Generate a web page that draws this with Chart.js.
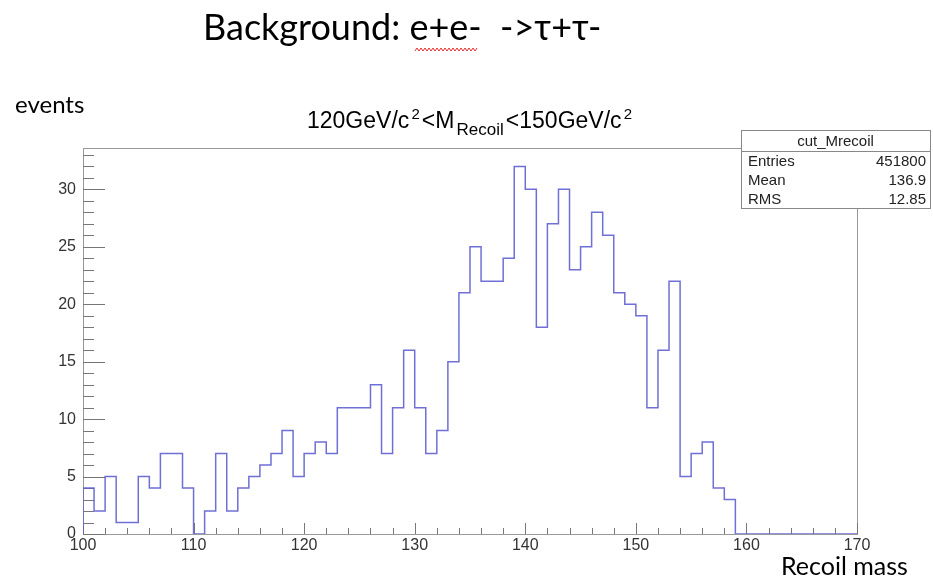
<!DOCTYPE html>
<html>
<head>
    <title>Recoil mass - tau tau background</title>
    <script src="https://cdn.jsdelivr.net/npm/chart.js"></script>
    <style>
        body { margin: 0; background: #fff; }
    </style>
</head>
<body>
    <canvas id="myChart" width="933" height="579"></canvas>
    <script>
        // histogram cut_Mrecoil, 1 GeV bins from 100 to 170
        const binStart = 100;
        const binWidth = 1;
        const counts = [
            4, 2, 5, 1, 1, 5, 4, 7, 7, 4,
            0, 2, 7, 2, 4, 5, 6, 7, 9, 5,
            7, 8, 7, 11, 11, 11, 13, 7, 11, 16,
            11, 7, 9, 15, 21, 25, 22, 22, 24, 32,
            30, 18, 27, 30, 23, 25, 28, 26, 21, 20,
            19, 11, 16, 22, 5, 7, 8, 4, 3, 0,
            0, 0, 0, 0, 0, 0, 0, 0, 0, 0
        ];
        const xTicks = [100, 110, 120, 130, 140, 150, 160, 170];
        const yTicks = [0, 5, 10, 15, 20, 25, 30];
        const statsLabels = ['Entries', 'Mean', 'RMS'];
        const statsValues = ['451800', '136.9', '12.85'];

        const yMax = 33.6;
        const lineColor = 'rgba(95, 95, 210, 0.9)';
        const axisFont = '"Liberation Sans", Arial, sans-serif';
        const slideFont = 'Lato, "Open Sans", sans-serif';

        // step points: rise from the baseline, one point per bin low edge, close at the last edge
        const points = [{ x: binStart, y: 0 }];
        counts.forEach((c, i) => points.push({ x: binStart + i * binWidth, y: c }));
        points.push({ x: binStart + counts.length * binWidth, y: 0 });

        // ROOT style inward ticks, frame, titles and stats box
        const rootDecor = {
            id: 'rootDecor',
            beforeDatasetsDraw(chart) {
                const { ctx, chartArea: a, scales: { x, y } } = chart;
                ctx.save();
                ctx.strokeStyle = '#999';
                ctx.lineWidth = 1;
                ctx.strokeRect(a.left + 0.5, a.top + 0.5, a.right - a.left, a.bottom - a.top);

                ctx.strokeStyle = '#777';
                ctx.beginPath();
                for (let v = xTicks[0]; v <= xTicks[xTicks.length - 1]; v += 2) {
                    const px = Math.round(x.getPixelForValue(v)) + 0.5;
                    const len = xTicks.includes(v) ? 11 : 6;
                    ctx.moveTo(px, a.bottom);
                    ctx.lineTo(px, a.bottom - len);
                }
                for (let v = 0; v <= Math.floor(yMax); v += 1) {
                    const py = Math.round(y.getPixelForValue(v)) + 0.5;
                    const len = yTicks.includes(v) ? 22 : 11;
                    ctx.moveTo(a.left, py);
                    ctx.lineTo(a.left + len, py);
                }
                ctx.stroke();
                ctx.restore();
            },
            afterDraw(chart) {
                const { ctx } = chart;
                ctx.save();
                ctx.fillStyle = '#000';
                ctx.textBaseline = 'alphabetic';

                // slide title
                ctx.font = '36px ' + slideFont;
                ctx.fillText('Background: e+e-  ->\u03c4+\u03c4-', 203, 40);
                // spell-check squiggle under e+e-
                ctx.strokeStyle = '#e03030';
                ctx.lineWidth = 1;
                ctx.beginPath();
                for (let px = 415, k = 0; px <= 478; px += 2, k++) {
                    const py = k % 2 ? 48 : 51;
                    if (k === 0) ctx.moveTo(px, py); else ctx.lineTo(px, py);
                }
                ctx.stroke();

                ctx.font = '24px ' + slideFont;
                ctx.fillText('events', 15, 113);
                ctx.font = '25px ' + slideFont;
                ctx.fillText('Recoil mass', 781, 575);

                // histogram title with super/subscripts: text, size, baseline
                const parts = [
                    ['120GeV/c', 23, 128], ['2', 15, 119], ['<M', 23, 128],
                    ['Recoil', 17, 135], ['<150GeV/c', 23, 128], ['2', 15, 119]
                ];
                const tLeft = 307, tRight = 632;
                let natural = 0;
                parts.forEach(p => { ctx.font = p[1] + 'px ' + axisFont; natural += ctx.measureText(p[0]).width; });
                const gap = Math.max(0, (tRight - tLeft - natural) / (parts.length - 1));
                let tx = tLeft;
                parts.forEach(p => {
                    ctx.font = p[1] + 'px ' + axisFont;
                    ctx.fillText(p[0], tx, p[2]);
                    tx += ctx.measureText(p[0]).width + gap;
                });

                // stats box
                const bx = 741, by = 130, bw = 189, bh = 78;
                ctx.fillStyle = '#fff';
                ctx.fillRect(bx, by, bw, bh);
                ctx.strokeStyle = '#888';
                ctx.strokeRect(bx + 0.5, by + 0.5, bw, bh);
                ctx.beginPath();
                ctx.moveTo(bx, by + 21.5);
                ctx.lineTo(bx + bw, by + 21.5);
                ctx.stroke();
                ctx.fillStyle = '#222';
                ctx.font = '15px ' + axisFont;
                ctx.textAlign = 'center';
                ctx.fillText('cut_Mrecoil', bx + bw / 2, by + 16);
                statsLabels.forEach((lab, i) => {
                    const ty = by + 36 + i * 19;
                    ctx.textAlign = 'left';
                    ctx.fillText(lab, bx + 7, ty);
                    ctx.textAlign = 'right';
                    ctx.fillText(statsValues[i], bx + bw - 4, ty);
                });
                ctx.restore();
            }
        };

        const ctx = document.getElementById('myChart').getContext('2d');
        const myChart = new Chart(ctx, {
            type: 'line',
            data: {
                datasets: [{
                    label: 'cut_Mrecoil',
                    data: points,
                    stepped: 'before',
                    borderColor: lineColor,
                    borderWidth: 1.5,
                    pointRadius: 0,
                    fill: false
                }]
            },
            options: {
                responsive: false,
                animation: false,
                layout: { padding: { top: 148, right: 76, left: 0, bottom: 0 } },
                plugins: {
                    legend: { display: false },
                    tooltip: { enabled: false }
                },
                scales: {
                    x: {
                        type: 'linear',
                        min: xTicks[0],
                        max: xTicks[xTicks.length - 1],
                        grid: { display: false, drawTicks: false },
                        border: { display: true, color: '#666', width: 1 },
                        ticks: {
                            stepSize: 10,
                            padding: 2,
                            color: '#333',
                            font: { family: axisFont, size: 16 },
                            maxRotation: 0
                        },
                        afterFit(scale) { scale.height = 45; }
                    },
                    y: {
                        min: 0,
                        max: yMax,
                        grid: { display: false, drawTicks: false },
                        border: { display: true, color: '#666', width: 1 },
                        ticks: {
                            stepSize: 5,
                            includeBounds: false,
                            padding: 7,
                            color: '#333',
                            font: { family: axisFont, size: 16 }
                        },
                        afterFit(scale) { scale.width = 83; }
                    }
                }
            },
            plugins: [rootDecor]
        });
    </script>
</body>
</html>
